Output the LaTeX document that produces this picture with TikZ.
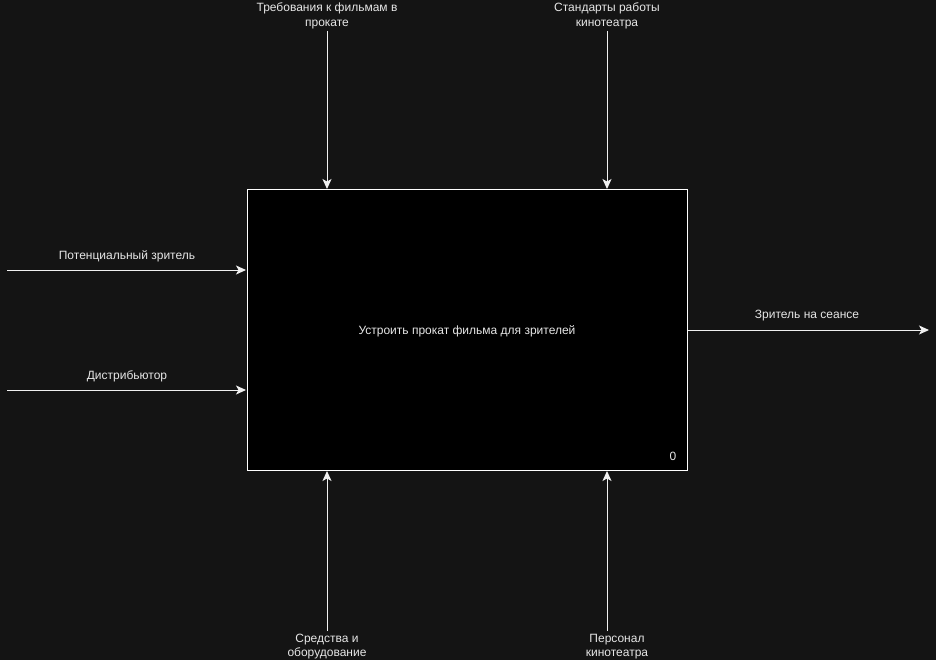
\documentclass[tikz,border=0pt]{standalone}
\usepackage{fontspec}
\setmainfont{Liberation Sans}
\usetikzlibrary{arrows.meta}
\definecolor{bg}{HTML}{141414}
\definecolor{txt}{HTML}{E6E6E6}
\definecolor{ln}{HTML}{F0F0F0}
\begin{document}
\begin{tikzpicture}[x=1pt,y=-1pt,
  every node/.style={font=\fontsize{12}{14.5}\selectfont, text=txt, inner sep=0pt, align=center},
  flow/.style={draw=ln, line width=1pt, -{Stealth[length=10pt,width=9pt,inset=2.5pt]}},
  func/.style={draw=white, line width=1pt, fill=black}]
  \fill[bg] (0,0) rectangle (936,660);
  \useasboundingbox (0,0) rectangle (936,660);
  % activity box
  \draw[func] (247,190) rectangle (687,470);
  \node (box) at (467,331) {Устроить прокат фильма для зрителей};
  \node (num) at (673,456) {0};
  % box side anchors
  \coordinate (ctl1) at (327,189);
  \coordinate (ctl2) at (607,189);
  \coordinate (in1) at (246,270);
  \coordinate (in2) at (246,390);
  \coordinate (out1) at (688,330);
  \coordinate (mech1) at (327,471);
  \coordinate (mech2) at (607,471);
  % free ends
  \coordinate (ctl1s) at (327,31);
  \coordinate (ctl2s) at (607,31);
  \coordinate (in1s) at (7,270);
  \coordinate (in2s) at (7,390);
  \coordinate (out1e) at (929,330);
  \coordinate (mech1s) at (327,631);
  \coordinate (mech2s) at (607,631);
  % controls
  \node (lc1) at (327,16) {Требования к фильмам в\\прокате};
  \node (lc2) at (607,16) {Стандарты работы\\кинотеатра};
  \draw[flow] (ctl1s) -- (ctl1);
  \draw[flow] (ctl2s) -- (ctl2);
  % inputs
  \node (li1) at (127,256) {Потенциальный зритель};
  \node (li2) at (127,376) {Дистрибьютор};
  \draw[flow] (in1s) -- (in1);
  \draw[flow] (in2s) -- (in2);
  % output
  \node (lo1) at (807,316) {Зритель на сеансе};
  \draw[flow] (out1) -- (out1e);
  % mechanisms
  \node (lm1) at (327,646.5) {Средства и\\оборудование};
  \node (lm2) at (617,646.5) {Персонал\\кинотеатра};
  \draw[flow] (mech1s) -- (mech1);
  \draw[flow] (mech2s) -- (mech2);
\end{tikzpicture}
\end{document}
